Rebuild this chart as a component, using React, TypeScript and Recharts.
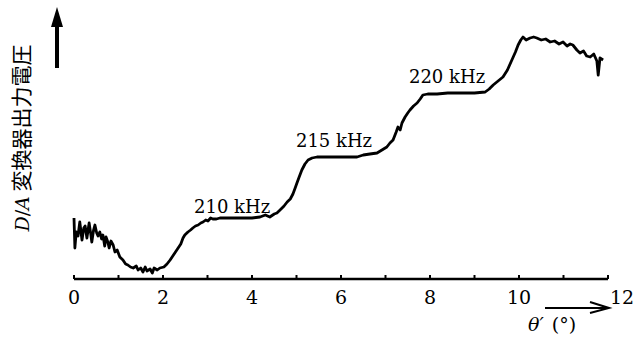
import React from 'react';
import { LineChart, Line, XAxis, YAxis, ReferenceDot } from 'recharts';

// θ' (degrees)
const theta = [
  0.0, 0.02, 0.05, 0.09, 0.13, 0.18, 0.22, 0.25, 0.29, 0.34, 0.38, 0.4, 0.44, 0.47, 0.51, 0.54,
  0.58, 0.62, 0.65, 0.69, 0.72, 0.76, 0.79, 0.83, 0.88, 0.92, 0.97, 1.03, 1.1, 1.16, 1.21, 1.27,
  1.33, 1.4, 1.44, 1.5, 1.55, 1.6, 1.64, 1.71, 1.76, 1.8, 1.87, 1.93, 2.02, 2.09, 2.16, 2.22,
  2.28, 2.34, 2.4, 2.45, 2.49, 2.56, 2.62, 2.67, 2.73, 2.79, 2.85, 2.9, 2.96, 3.01, 3.07, 3.12,
  3.2, 3.28, 3.44, 3.73, 4.0, 4.18, 4.3, 4.4, 4.5, 4.56, 4.63, 4.72, 4.79, 4.86, 4.92, 4.97,
  5.01, 5.06, 5.12, 5.19, 5.26, 5.35, 5.46, 5.6, 5.75, 6.0, 6.2, 6.36, 6.5, 6.65, 6.81, 6.92,
  7.03, 7.1, 7.17, 7.24, 7.28, 7.33, 7.37, 7.44, 7.5, 7.55, 7.63, 7.71, 7.78, 7.84, 7.95, 8.05,
  8.16, 8.4, 8.67, 9.0, 9.24, 9.33, 9.42, 9.53, 9.64, 9.74, 9.84, 9.92, 9.98, 10.04, 10.09, 10.16,
  10.25, 10.33, 10.4, 10.5, 10.6, 10.7, 10.8, 10.9, 10.99, 11.08, 11.15, 11.21, 11.3, 11.37, 11.45, 11.52,
  11.6, 11.68, 11.75, 11.78, 11.82, 11.89,
];

// D/A converter output (arbitrary units)
const output = [
  61, 31, 47, 43, 57, 39, 51, 53, 41, 56, 44, 37, 49, 54, 46, 43,
  47, 40, 44, 33, 42, 37, 31, 38, 34, 27, 29, 22, 19, 15, 14, 12,
  11, 13, 9, 11, 7, 12, 8, 10, 6, 11, 9, 11, 12, 15, 19, 23,
  27, 31, 35, 41, 44, 47, 49, 51, 53, 54, 56, 57, 59, 58, 61, 60,
  60, 61, 61, 61, 61, 62, 64, 62, 65, 66, 69, 73, 77, 80, 85, 91,
  96, 102, 109, 115, 119, 121, 122, 122, 122, 122, 122, 122, 124, 125, 126, 129,
  132, 136, 139, 147, 152, 149, 156, 162, 166, 169, 173, 176, 180, 184, 185, 185,
  185, 186, 186, 186, 187, 190, 194, 198, 202, 209, 219, 227, 234, 239, 242, 239,
  241, 242, 241, 239, 240, 237, 238, 235, 237, 233, 235, 234, 229, 226, 228, 223,
  222, 225, 218, 204, 221, 219,
];

const xTicks = [0, 1, 2, 3, 4, 5, 6, 7, 8, 9, 10, 11, 12];

const labelText = ['210 kHz', '215 kHz', '220 kHz'];
const labelTheta = [2.72, 5.01, 7.55];
const labelLevel = [66, 132, 196];

const data = theta.map((t, i) => ({ t, v: output[i] }));

const serif = "'DejaVu Serif', serif";

const Tick = (props: any) => {
  const { x, y, payload } = props;
  const val = payload.value as number;
  return (
    <g>
      <line x1={x} x2={x} y1={y} y2={y - 4} stroke="#000" strokeWidth={2} />
      {val % 2 === 0 && (
        <text x={val === 12 ? x + 14 : x} y={y + 25} textAnchor="middle" fontSize={19} fontFamily={serif} fill="#000">
          {val}
        </text>
      )}
    </g>
  );
};

const App = () => {
  return (
    <div style={{ position: 'relative', width: 635, height: 337, background: '#fff' }}>
      <style>{'body{margin:0}'}</style>
      <LineChart width={635} height={337} data={data} margin={{ top: 12, right: 27, left: 74, bottom: 0 }}>
        <XAxis
          dataKey="t"
          type="number"
          domain={[0, 12]}
          ticks={xTicks}
          tickLine={false}
          tickSize={0}
          tickMargin={0}
          height={58}
          axisLine={{ stroke: '#000', strokeWidth: 2.5 }}
          tick={<Tick />}
          interval={0}
        />
        <YAxis
          type="number"
          domain={[0, 267]}
          width={0}
          tick={false}
          tickLine={false}
          axisLine={{ stroke: '#000', strokeWidth: 3.5 }}
        />
        <Line
          dataKey="v"
          type="linear"
          stroke="#000"
          strokeWidth={2.8}
          strokeLinejoin="round"
          dot={false}
          isAnimationActive={false}
        />
        {labelText.map((txt, i) => (
          <ReferenceDot
            key={txt}
            x={labelTheta[i]}
            y={labelLevel[i]}
            r={1}
            fill="none"
            stroke="none"
            label={(p: any) => (
              <text x={p.viewBox.x} y={p.viewBox.y + 1} fontSize={18} fontFamily={serif} fill="#000">
                {txt}
              </text>
            )}
          />
        ))}
      </LineChart>
      <svg width={635} height={337} style={{ position: 'absolute', left: 0, top: 0, pointerEvents: 'none' }}>
        <line x1={57} x2={57} y1={24} y2={68} stroke="#000" strokeWidth={4} />
        <polygon points="57,7 51,27 63,27" fill="#000" />
        <text transform="translate(29,138) rotate(-90)" textAnchor="middle" fontSize={19} fontFamily={serif} fill="#000">
          <tspan fontStyle="italic">D</tspan>
          <tspan>/</tspan>
          <tspan fontStyle="italic">A</tspan>
          <tspan fontFamily="'Noto Sans CJK JP', sans-serif" fontSize={21}> 変換器出力電圧</tspan>
        </text>
        <line x1={545} x2={608} y1={308} y2={308} stroke="#000" strokeWidth={2} />
        <polyline points="590,302 609,308 590,313" fill="none" stroke="#000" strokeWidth={2} />
        <text x={528} y={331} fontSize={19} fontFamily={serif} fill="#000">
          <tspan fontStyle="italic">θ′</tspan>
          <tspan dx={8}>(°)</tspan>
        </text>
      </svg>
    </div>
  );
};

export default App;
